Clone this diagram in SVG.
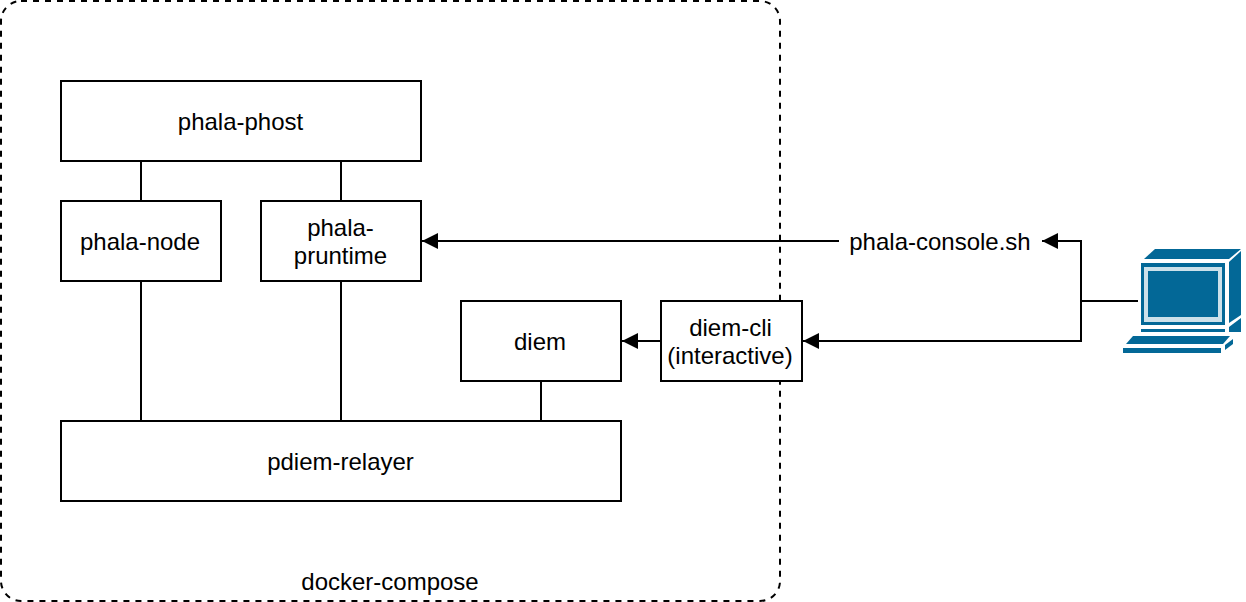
<svg xmlns="http://www.w3.org/2000/svg" width="1246" height="602" viewBox="0 0 1246 602">
<style>
.b{fill:#fff;stroke:#000;stroke-width:2}
.c{fill:none;stroke:#000;stroke-width:2}
text{font-family:"Liberation Sans",Arial,sans-serif;font-size:24px;fill:#000;text-anchor:middle}
.pc{fill:#036897}
.ph{fill:#fff;opacity:.8}
</style>
<defs>
<marker id="a" markerUnits="userSpaceOnUse" markerWidth="18" markerHeight="18" refX="17" refY="9" orient="auto" viewBox="0 0 18 18"><path d="M1 1L17 9L1 17Z" fill="#000"/></marker>
</defs>
<rect id="docker-compose" x="1" y="1" width="779" height="600" rx="20" ry="20" fill="none" stroke="#000" stroke-width="2" stroke-dasharray="6 6"/>
<g id="connectors">
<path class="c" d="M141 161V201"/>
<path class="c" d="M341 161V201"/>
<path class="c" d="M141 281V421"/>
<path class="c" d="M341 281V421"/>
<path class="c" d="M541 381V421"/>
<path class="c" d="M661 341H622" marker-end="url(#a)"/>
<path class="c" d="M839 241H422" marker-end="url(#a)"/>
<path class="c" d="M1138 301H1081V241H1042" marker-end="url(#a)"/>
<path class="c" d="M1081 301V341H803" marker-end="url(#a)"/>
</g>
<g id="phala-phost"><rect class="b" x="61" y="81" width="360" height="80"/><text x="240.5" y="130">phala-phost</text></g>
<g id="phala-node"><rect class="b" x="61" y="201" width="160" height="80"/><text x="140" y="250">phala-node</text></g>
<g id="phala-pruntime"><rect class="b" x="261" y="201" width="160" height="80"/><text x="340.5" y="236">phala-</text><text x="340.5" y="264">pruntime</text></g>
<g id="diem"><rect class="b" x="461" y="301" width="160" height="80"/><text x="540" y="350">diem</text></g>
<g id="diem-cli"><rect class="b" x="661" y="301" width="141" height="80"/><text x="730.5" y="336">diem-cli</text><text x="730" y="364">(interactive)</text></g>
<g id="pdiem-relayer"><rect class="b" x="61" y="421" width="560" height="80"/><text x="340.5" y="470">pdiem-relayer</text></g>
<g id="docker-compose-label"><text x="390" y="590">docker-compose</text></g>
<g id="phala-console"><text x="940" y="250">phala-console.sh</text></g>
<g id="computer">
<path class="pc" d="M1144 259L1155 249H1241L1229 259Z"/>
<path class="pc" d="M1141 263H1225V325H1141Z"/>
<path class="ph" d="M1144 267H1222V322H1144ZM1148 271V317H1218V271Z" fill-rule="evenodd"/>
<path class="pc" d="M1229 262L1241 251V315L1229 323Z"/>
<path class="pc" d="M1229 327L1241 318V332H1229Z"/>
<path class="pc" d="M1141 329H1225V332H1141Z"/>
<path class="pc" d="M1126 344L1133 336H1230L1223 344Z"/>
<path class="pc" d="M1123 348H1221V353H1123Z"/>
<path class="pc" d="M1225 345L1233 339V344L1225 350Z"/>
</g>
</svg>
